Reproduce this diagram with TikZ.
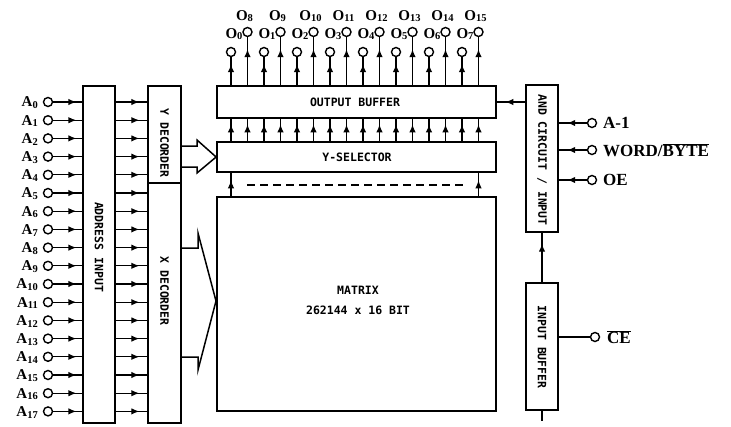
\documentclass[tikz,border=0pt]{standalone}
\usepackage{fontspec}
\setmainfont{Liberation Serif}
\newfontfamily\boxfont{DejaVu Sans Mono}
\usetikzlibrary{decorations.markings,arrows.meta,calc}

\newcommand\pinsub[2]{#1\raisebox{-1.8pt}{\fontsize{10.5}{11}\selectfont #2}}
\newcommand\ovl[1]{$\overline{\mbox{#1}}$}

\tikzset{
  blk/.style={draw, line width=1.7pt, inner sep=0pt, rectangle},
  conn/.style={line width=1.3pt},
  pin/.style={draw, circle, line width=1.4pt, minimum size=9pt, inner sep=0pt, fill=white},
  boxlbl/.style={font=\boxfont\bfseries\fontsize{11.5}{12}\selectfont, inner sep=0pt},
  pinlbl/.style={font=\bfseries\fontsize{15}{16}\selectfont, inner sep=0pt},
  sidelbl/.style={font=\bfseries\fontsize{17}{18}\selectfont, inner sep=0pt},
  hollow/.style={line width=1.5pt, line join=miter},
  midarr/.style={postaction={decorate}, decoration={markings,
      mark=at position #1 with {\arrow{Latex[length=8pt,width=6.5pt]}}}},
}

\begin{document}
\begin{tikzpicture}[x=1pt, y=-1pt]
\useasboundingbox (0,0) rectangle (731,426);

% blocks
\node[blk, minimum width=32, minimum height=337] (addr) at (99,254.5) {};
\node[blk, minimum width=33, minimum height=97] (ydec) at (164.5,134.5) {};
\node[blk, minimum width=33, minimum height=240] (xdec) at (164.5,303) {};
\node[blk, minimum width=279, minimum height=32] (obuf) at (356.5,102) {};
\node[blk, minimum width=279, minimum height=30] (ysel) at (356.5,157) {};
\node[blk, minimum width=279, minimum height=214] (matrix) at (356.5,304) {};
\node[blk, minimum width=32, minimum height=147] (andc) at (542,158.5) {};
\node[blk, minimum width=32, minimum height=127] (ibuf) at (542,346.5) {};

% block labels
\node[boxlbl, rotate=-90] (taddr) at (99,247) {ADDRESS INPUT};
\node[boxlbl, rotate=-90] (tydec) at (164.5,143) {Y DECORDER};
\node[boxlbl, rotate=-90] (txdec) at (164.5,291) {X DECORDER};
\node[boxlbl] (tobuf) at (355,102) {OUTPUT BUFFER};
\node[boxlbl] (tysel) at (357,157) {Y-SELECTOR};
\node[boxlbl, align=center] (tmat) at (358,300) {MATRIX\\[8pt]262144 x 16 BIT};
\node[boxlbl, rotate=-90] (tandc) at (542,160) {AND CIRCUIT / INPUT};
\node[boxlbl, rotate=-90] (tibuf) at (542,347) {INPUT BUFFER};

% address pins
\foreach \i in {0,...,17}{
  \pgfmathsetmacro\yy{102+18.2*\i}
  \pgfmathsetmacro\yb{\yy+4.8}
  \node[pin] (a\i) at (48,\yy) {};
  \node[pinlbl, anchor=base east] (al\i) at (38,\yb) {\pinsub{A}{\i}};
  \draw[conn, midarr=0.8] (a\i) -- (a\i -| addr.west);
}
\foreach \i in {0,...,4}
  \draw[conn, midarr=0.75] (addr.east |- a\i) -- (ydec.west |- a\i);
\foreach \i in {5,...,17}
  \draw[conn, midarr=0.75] (addr.east |- a\i) -- (xdec.west |- a\i);

% outputs
\foreach \i in {0,...,15}{
  \pgfmathsetmacro\xx{231+16.5*\i}
  \pgfmathtruncatemacro\odd{mod(\i,2)}
  \ifnum\odd=0
    \pgfmathtruncatemacro\k{\i/2}
    \pgfmathsetmacro\xl{\xx+3}
    \node[pin] (o\i) at (\xx,52) {};
    \node[pinlbl, anchor=base] (ol\i) at (\xl,38) {\pinsub{O}{\k}};
  \else
    \pgfmathtruncatemacro\k{8+(\i-1)/2}
    \pgfmathsetmacro\xl{\xx-3}
    \node[pin] (o\i) at (\xx,32) {};
    \node[pinlbl, anchor=base] (ol\i) at (\xl,20) {\pinsub{O}{\k}};
  \fi
  \draw[conn, midarr=0.75] (obuf.north -| o\i) -- (o\i);
  \draw[conn, midarr=0.75] (ysel.north -| o\i) -- (obuf.south -| o\i);
}

% Y-selector to matrix
\draw[conn, midarr=0.68] (matrix.north -| o0) -- (ysel.south -| o0);
\draw[conn, midarr=0.68] (matrix.north -| o15) -- (ysel.south -| o15);
\coordinate (dl) at (247,185);
\coordinate (dr) at (467,185);
\draw[line width=1.5pt, dash pattern=on 8pt off 5pt] (dl) -- (dr);

% hollow arrows
\draw[hollow] (ydec.east |- 0,146) -- (197,146) -- (197,140) -- (ysel.west) -- (197,173) -- (197,167) -- (ydec.east |- 0,167);
\draw[hollow] (xdec.east |- 0,248) -- (198,248) -- (198,233) -- (216,301) -- (198,370) -- (198,357) -- (xdec.east |- 0,357);

% right side
\draw[conn, midarr=0.7] (andc.west |- obuf.east) -- (obuf.east);
\node[pin] (p1) at (592,123) {};
\node[pin] (p2) at (592,150) {};
\node[pin] (p3) at (592,180) {};
\draw[conn, midarr=0.7] (p1) -- (andc.east |- p1);
\draw[conn, midarr=0.7] (p2) -- (andc.east |- p2);
\draw[conn, midarr=0.7] (p3) -- (andc.east |- p3);
\node[sidelbl, anchor=west] (l1) at (603,123) {A-1};
\node[sidelbl, anchor=west] (l2) at (603,150) {WORD/\ovl{BYTE}};
\node[sidelbl, anchor=west] (l3) at (603,180) {OE};

\draw[conn, midarr=0.78] (ibuf.north) -- (andc.south);
\coordinate (stub) at (542,421);
\draw[conn] (ibuf.south) -- (stub);
\node[pin] (ce) at (595,337) {};
\draw[conn] (ibuf.east |- ce) -- (ce);
\node[sidelbl, anchor=west] (lce) at (607,337) {\ovl{CE}};
\end{tikzpicture}
\end{document}
